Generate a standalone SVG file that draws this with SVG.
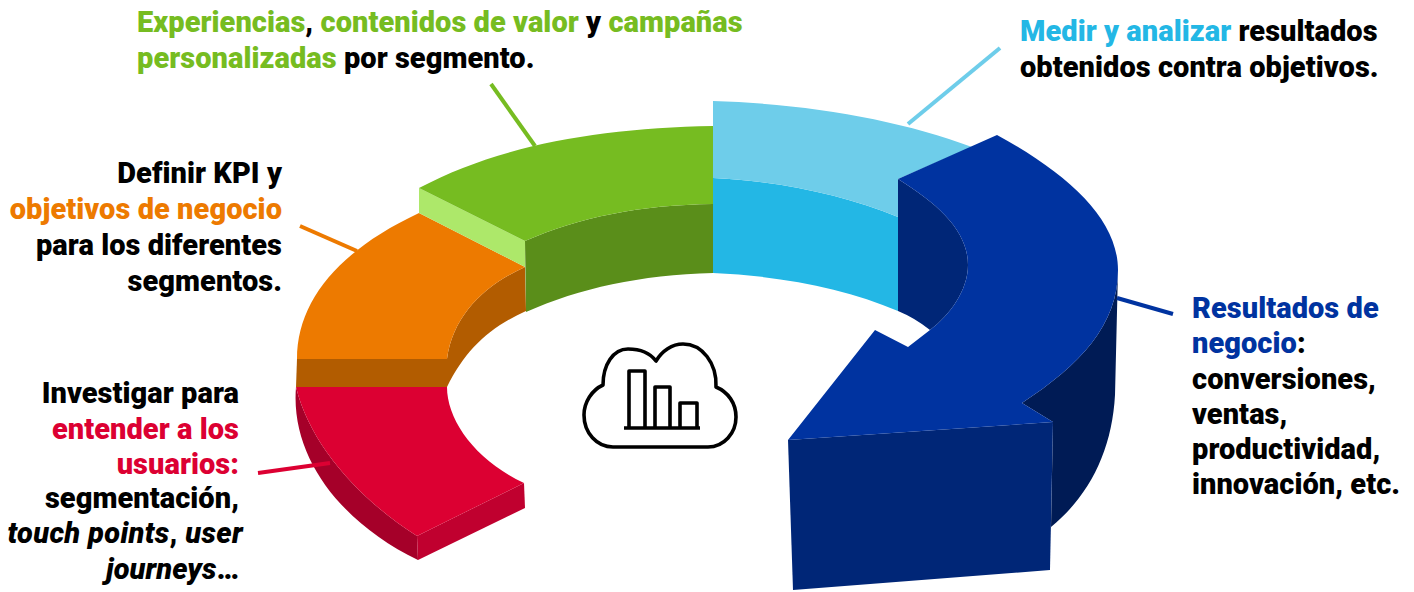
<svg xmlns="http://www.w3.org/2000/svg" width="1414" height="592" viewBox="0 0 1414 592">
<style>
text{font-family:Roboto,"Liberation Sans",sans-serif;font-weight:900;font-size:29px;fill:#000;letter-spacing:.05px}
.e{text-anchor:end}
.it{letter-spacing:.35px}
.r{fill:#dc0032}.o{fill:#ed7a00}.g{fill:#76bc21}.b{fill:#23b7e5}.n{fill:#0033a0}
.ln{fill:none;stroke-width:4}
.ic{fill:none;stroke:#000;stroke-width:3.6;stroke-linejoin:round}
</style>
<rect width="1414" height="592" fill="#fff"/>
<g id="seg-red">
<path fill="#a50029" d="M296,387C290,460 345,525 418,560L417,536C360,500 310,445 296,387Z"/>
<path fill="#c0002f" d="M417,536L524,483L525,508L418,560Z"/>
<path class="r" d="M296,387H447C447,420 475,460 524,483L417,536C360,500 310,445 296,387Z"/>
</g>
<g id="seg-orange">
<path fill="#b25c00" d="M297,359H447V387H296Z"/>
<path fill="#b25c00" d="M447,359C453,315 485,285 525,267L526,311C490,327 465,350 447,387Z"/>
<path class="o" d="M297,359C297,300 340,250 419,213L525,267C485,285 453,315 447,359Z"/>
</g>
<g id="seg-green">
<path fill="#ade86a" d="M419,188L525,241V267L419,213Z"/>
<path fill="#5a8e1a" d="M525,241C580,217 640,205 713,204V273C640,275 580,288 526,312Z"/>
<path class="g" d="M419,188C500,145 600,128 713,126V204C640,205 580,217 525,241Z"/>
</g>
<g id="seg-blue">
<path class="b" d="M713,178C780,181 845,195 898,217V311C845,288 780,276 713,273Z"/>
<path fill="#6ecdea" d="M713,101C810,104 900,120 972,147L898,179V217C845,195 780,181 713,178Z"/>
</g>
<g id="arrow">
<path fill="#002677" d="M898,179C940,205 968,232 968,265C968,290 950,315 930,330Q915,318 898,311Z"/>
<path fill="#001b55" d="M1118,270L1115,395C1112,450 1090,495 1051,527L1053,422L1022,403C1080,365 1118,325 1118,270Z"/>
<path fill="#002677" d="M788,440L1053,422L1050,570L793,590Z"/>
<path class="n" d="M898,179L997,135C1070,175 1118,220 1118,270C1118,325 1080,365 1022,403L1053,422L788,440L875,330L908,347L930,330C950,315 968,290 968,265C968,232 940,205 898,179Z"/>
</g>
<g id="connectors">
<line class="ln" x1="300" y1="226" x2="357" y2="251" stroke="#ed7a00"/>
<line class="ln" x1="258" y1="473" x2="330" y2="463" stroke="#dc0032"/>
<line class="ln" x1="491" y1="84" x2="535" y2="146" stroke="#76bc21"/>
<line class="ln" x1="1000" y1="48" x2="908" y2="124" stroke="#6ecdea"/>
<line class="ln" x1="1117" y1="298" x2="1173" y2="314" stroke="#0033a0"/>
</g>
<g id="icon">
<path class="ic" d="M613,447H708C724,447 736,433 736,417C736,403 728,392 716,387C717,363 702,344 683,344C672,344 662,351 656,361C650,353 640,349 628,349C613,349 603,365 603,385C592,390 584,402 584,415C584,433 597,447 613,447Z"/>
<path class="ic" d="M629,428V371H645V428M655,428V387H670V428M680,428V403H697V428M624,428H700"/>
</g>
<g id="label-green">
<text x="137" y="32"><tspan fill="#76bc21">Experiencias</tspan>, <tspan fill="#76bc21">contenidos de valor</tspan> y <tspan fill="#76bc21">campañas</tspan></text>
<text x="137" y="68"><tspan fill="#76bc21">personalizadas</tspan> por segmento.</text>
</g>
<g id="label-lightblue">
<text x="1020" y="41"><tspan fill="#23b7e5">Medir y analizar</tspan> resultados</text>
<text x="1020" y="77">obtenidos contra objetivos.</text>
</g>
<g id="label-orange">
<text class="e" x="282" y="183">Definir KPI y</text>
<text class="e" x="282" y="219" style="fill:#ed7a00">objetivos de negocio</text>
<text class="e" x="282" y="255">para los diferentes</text>
<text class="e" x="282" y="291">segmentos.</text>
</g>
<g id="label-red">
<text class="e" x="239" y="403">Investigar para</text>
<text class="e" x="239" y="439" style="fill:#dc0032">entender a los</text>
<text class="e" x="239" y="474" style="fill:#dc0032">usuarios:</text>
<text class="e" x="239" y="508">segmentación,</text>
<text class="e it" x="243" y="543"><tspan font-style="italic">touch points</tspan>, <tspan font-style="italic">user</tspan></text>
<text class="e" x="239" y="579"><tspan font-style="italic">journeys</tspan>…</text>
</g>
<g id="label-navy">
<text x="1192" y="318" style="fill:#0033a0">Resultados de</text>
<text x="1192" y="353"><tspan fill="#0033a0">negocio</tspan>:</text>
<text x="1192" y="389">conversiones,</text>
<text x="1192" y="424">ventas,</text>
<text x="1192" y="459">productividad,</text>
<text x="1192" y="494">innovación, etc.</text>
</g>
</svg>
